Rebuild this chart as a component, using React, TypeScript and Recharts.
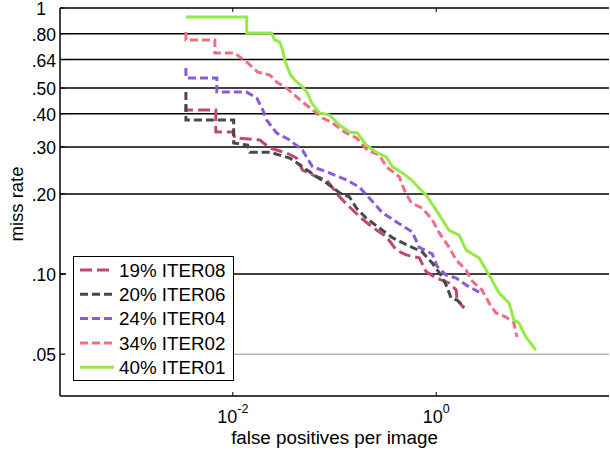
import React from 'react';
import { LineChart, Line, XAxis, YAxis, ReferenceLine, Legend } from 'recharts';

const FONT = '"Liberation Sans", Arial, Helvetica, sans-serif';

// Axis ticks
const yTicks = [0.05, 0.1, 0.2, 0.3, 0.4, 0.5, 0.64, 0.8, 1];
const yTickLabels = ['.05', '.10', '.20', '.30', '.40', '.50', '.64', '.80', '1'];
const xTicks = [0.01, 1];
const xTickExps = ['-2', '0'];

// Series meta
const seriesNames = ['19% ITER08', '20% ITER06', '24% ITER04', '34% ITER02', '40% ITER01'];
const seriesColors = ['#c1457a', '#464b46', '#8a5bd8', '#ef6f80', '#96ea46'];
const seriesDashes = ['12 5', '8 4', '8 4', '8 4', ''];

// ITER08
const iter08Fppi = [0.00346, 0.00346, 0.00681, 0.00681, 0.0100, 0.01047, 0.0184, 0.0231, 0.0338, 0.0424, 0.0485, 0.0667, 0.0836, 0.112, 0.140, 0.184, 0.236, 0.324, 0.406, 0.508, 0.681, 0.798, 1.0, 1.34, 1.57, 1.61, 1.88];
const iter08Miss = [0.432, 0.414, 0.414, 0.342, 0.342, 0.325, 0.319, 0.298, 0.285, 0.273, 0.246, 0.232, 0.226, 0.195, 0.179, 0.162, 0.150, 0.138, 0.123, 0.118, 0.115, 0.102, 0.0966, 0.0925, 0.0871, 0.0798, 0.0745];

// ITER06
const iter06Fppi = [0.00346, 0.00346, 0.0102, 0.0102, 0.0140, 0.0147, 0.0231, 0.0289, 0.0362, 0.0485, 0.0667, 0.0836, 0.112, 0.140, 0.164, 0.206, 0.276, 0.371, 0.508, 0.729, 0.914, 1.15, 1.28, 1.40, 1.61, 1.88];
const iter06Miss = [0.483, 0.379, 0.379, 0.311, 0.305, 0.287, 0.287, 0.280, 0.273, 0.253, 0.232, 0.220, 0.202, 0.195, 0.177, 0.162, 0.149, 0.137, 0.129, 0.121, 0.110, 0.0974, 0.0893, 0.0812, 0.0798, 0.0751];

// ITER04
const iter04Fppi = [0.00346, 0.00346, 0.00697, 0.00697, 0.0137, 0.0172, 0.0197, 0.0215, 0.0270, 0.0362, 0.0485, 0.0608, 0.0893, 0.131, 0.176, 0.220, 0.296, 0.406, 0.582, 0.681, 0.914, 1.02, 1.25, 1.57, 1.97, 2.64];
const iter04Miss = [0.595, 0.546, 0.546, 0.483, 0.483, 0.459, 0.414, 0.379, 0.339, 0.319, 0.292, 0.253, 0.240, 0.226, 0.212, 0.193, 0.170, 0.157, 0.144, 0.126, 0.119, 0.107, 0.0991, 0.0966, 0.0909, 0.0855];

// ITER02
const iter02Fppi = [0.00346, 0.00346, 0.00667, 0.00667, 0.01047, 0.0117, 0.0137, 0.0176, 0.0231, 0.0270, 0.0338, 0.0424, 0.0485, 0.0608, 0.0762, 0.0955, 0.125, 0.164, 0.211, 0.276, 0.324, 0.434, 0.485, 0.569, 0.729, 0.914, 1.07, 1.34, 1.57, 1.97, 2.20, 2.82, 3.31, 3.87, 4.85, 5.82, 6.22];
const iter02Miss = [0.812, 0.758, 0.758, 0.677, 0.677, 0.655, 0.627, 0.574, 0.560, 0.527, 0.500, 0.463, 0.443, 0.414, 0.386, 0.370, 0.342, 0.325, 0.292, 0.280, 0.253, 0.232, 0.207, 0.185, 0.177, 0.160, 0.143, 0.126, 0.113, 0.1035, 0.0949, 0.0871, 0.0778, 0.0714, 0.0689, 0.0654, 0.0580];

// ITER01
const iter01Fppi = [0.00346, 0.0137, 0.0137, 0.0241, 0.0258, 0.0289, 0.0309, 0.0324, 0.0346, 0.0371, 0.0406, 0.0485, 0.0543, 0.0596, 0.0713, 0.0893, 0.112, 0.140, 0.168, 0.206, 0.258, 0.324, 0.371, 0.464, 0.569, 0.681, 0.798, 1.0, 1.34, 1.68, 1.97, 2.64, 3.31, 4.15, 5.20, 5.82, 6.51, 7.63, 9.55];
const iter01Miss = [0.925, 0.925, 0.805, 0.805, 0.758, 0.745, 0.695, 0.637, 0.595, 0.560, 0.536, 0.505, 0.479, 0.440, 0.403, 0.396, 0.363, 0.342, 0.339, 0.305, 0.287, 0.275, 0.253, 0.240, 0.226, 0.210, 0.198, 0.174, 0.146, 0.140, 0.123, 0.115, 0.0991, 0.0848, 0.0778, 0.0671, 0.0654, 0.0580, 0.0518];

const build = (f: number[], m: number[]) => f.map((v, i) => ({ fppi: v, miss: m[i] }));

const seriesData = [
  build(iter08Fppi, iter08Miss),
  build(iter06Fppi, iter06Miss),
  build(iter04Fppi, iter04Miss),
  build(iter02Fppi, iter02Miss),
  build(iter01Fppi, iter01Miss),
];

// draw order (later on top)
const drawOrder = [3, 4, 2, 0, 1];

const YTick = (props: any) => {
  const { y, payload } = props;
  const idx = yTicks.indexOf(payload.value);
  const label = yTickLabels[idx];
  return (
    <g>
      <line x1={60} x2={65} y1={y} y2={y} stroke="#000" strokeWidth={1} />
      <text
        x={label === '1' ? 46 : 56}
        y={y}
        dy={7}
        textAnchor="end"
        fontSize={17.5}
        fontFamily={FONT}
        fill="#000"
      >
        {label}
      </text>
    </g>
  );
};

const XTick = (props: any) => {
  const { x, payload } = props;
  const idx = xTicks.indexOf(payload.value);
  return (
    <g>
      <line x1={x} x2={x} y1={396} y2={392} stroke="#000" strokeWidth={1} />
      <line x1={x} x2={x} y1={8} y2={12} stroke="#000" strokeWidth={1} />
      <text x={x} y={423} textAnchor="middle" fontSize={18} fontFamily={FONT} fill="#000">
        <tspan>10</tspan>
        <tspan dy={-10} fontSize={12.5}>{xTickExps[idx]}</tspan>
      </text>
    </g>
  );
};

const renderLegend = () => (
  <div style={{ width: 168, height: 126, position: 'relative', background: '#fff' }}>
    <svg width={168} height={126} style={{ position: 'absolute', left: 0, top: 0 }}>
      <rect x={7.5} y={0.5} width={160} height={124} fill="#fff" stroke="#000" strokeWidth={1} />
      {seriesNames.map((name, i) => {
        const cy = 14 + i * 24.3;
        return (
          <g key={name}>
            <line
              x1={14}
              x2={48}
              y1={cy}
              y2={cy}
              stroke={seriesColors[i]}
              strokeWidth={3}
              strokeDasharray={seriesDashes[i] || undefined}
            />
            <text x={53} y={cy + 6.8} fontSize={18.8} fontFamily={FONT} fill="#000">
              {name}
            </text>
          </g>
        );
      })}
    </svg>
  </div>
);

export default function App() {
  return (
    <div style={{ position: 'absolute', left: 0, top: 0, width: 610, height: 453, background: '#fff' }}>
      <LineChart width={610} height={453} margin={{ top: 8, right: 1, bottom: 0, left: 0 }}>
        <XAxis
          dataKey="fppi"
          type="number"
          scale="log"
          domain={[0.0002, 50]}
          allowDataOverflow
          ticks={xTicks}
          tick={<XTick />}
          tickLine={false}
          axisLine={{ stroke: '#000', strokeWidth: 1.5 }}
          height={57}
          interval={0}
          label={{
            content: () => (
              <text x={334.5} y={444} textAnchor="middle" fontSize={18.8} fontFamily={FONT} fill="#000">
                false positives per image
              </text>
            ),
          }}
        />
        <YAxis
          dataKey="miss"
          type="number"
          scale="log"
          domain={[0.0348, 1]}
          allowDataOverflow
          ticks={yTicks}
          tick={<YTick />}
          tickLine={false}
          axisLine={{ stroke: '#000', strokeWidth: 1.5 }}
          width={60}
          interval={0}
          label={{
            content: () => (
              <text
                x={23}
                y={204}
                transform="rotate(-90 23 204)"
                textAnchor="middle"
                fontSize={18.5}
                fontFamily={FONT}
                fill="#000"
              >
                miss rate
              </text>
            ),
          }}
        />
        {yTicks.map((v) => (
          <ReferenceLine
            key={v}
            y={v}
            stroke={v === 0.05 ? '#b4b4b4' : '#000'}
            strokeWidth={1.5}
          />
        ))}
        {drawOrder.map((i) => (
          <Line
            key={seriesNames[i]}
            data={seriesData[i]}
            dataKey="miss"
            name={seriesNames[i]}
            type="linear"
            stroke={seriesColors[i]}
            strokeWidth={3}
            strokeDasharray={seriesDashes[i] || undefined}
            dot={false}
            activeDot={false}
            isAnimationActive={false}
          />
        ))}
        <Legend
          content={renderLegend}
          layout="vertical"
          align="center"
          verticalAlign="middle"
          wrapperStyle={{ left: 66, top: 256, width: 168, height: 126 }}
        />
      </LineChart>
    </div>
  );
}
